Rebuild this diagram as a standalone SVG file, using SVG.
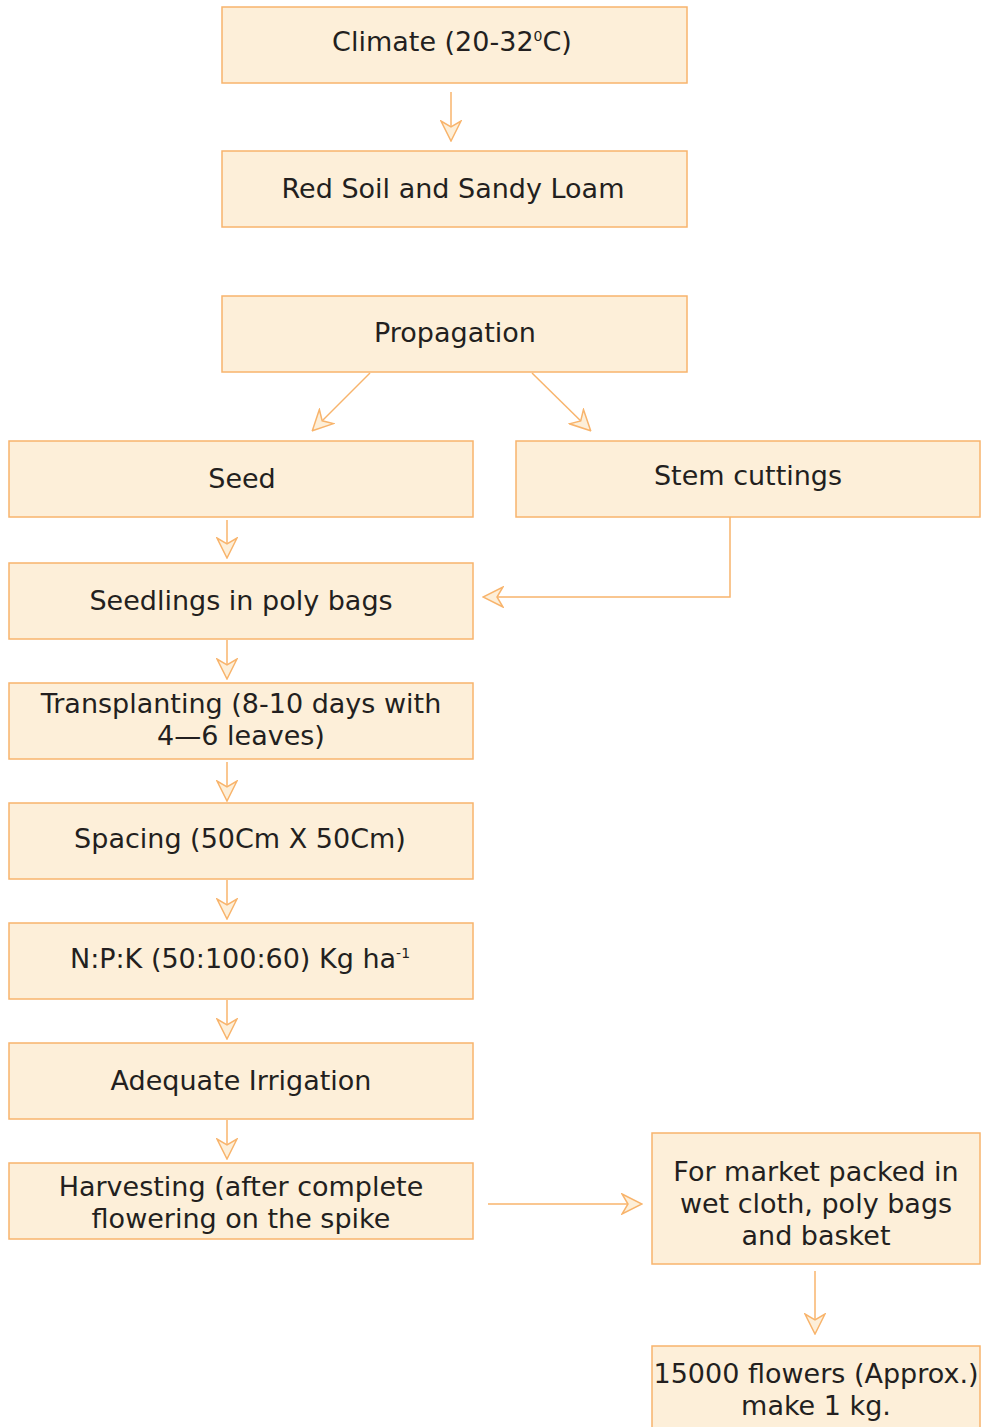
<svg xmlns="http://www.w3.org/2000/svg" width="988" height="1427" viewBox="0 0 988 1427">
<defs>
<style>
.box{fill:#fdefd9;stroke:#f8b46c;stroke-width:1.5}
.t{font-family:"DejaVu Sans",Verdana,sans-serif;font-size:27px;fill:#231f20;text-anchor:middle}
.c{fill:none;stroke:#f8b46c;stroke-width:1.5}
</style>
<marker id="ah" viewBox="0 0 22 22" refX="20" refY="11" markerWidth="22" markerHeight="22" markerUnits="userSpaceOnUse" orient="auto">
<path d="M1,1 L21,11 L1,21 L7,11 Z" fill="#fdefd9" stroke="#f8b46c" stroke-width="1.5" stroke-linejoin="miter"/>
</marker>
</defs>
<rect width="988" height="1427" fill="#fff"/>
<g id="connectors">
<line class="c" x1="451" y1="92" x2="451" y2="140" marker-end="url(#ah)"/>
<line class="c" x1="370" y1="373" x2="313" y2="430" marker-end="url(#ah)"/>
<line class="c" x1="532" y1="373" x2="590" y2="430" marker-end="url(#ah)"/>
<line class="c" x1="227" y1="520" x2="227" y2="557" marker-end="url(#ah)"/>
<polyline class="c" points="730,517 730,597 484,597" marker-end="url(#ah)"/>
<line class="c" x1="227" y1="640" x2="227" y2="678" marker-end="url(#ah)"/>
<line class="c" x1="227" y1="762" x2="227" y2="800" marker-end="url(#ah)"/>
<line class="c" x1="227" y1="880" x2="227" y2="918" marker-end="url(#ah)"/>
<line class="c" x1="227" y1="1000" x2="227" y2="1038" marker-end="url(#ah)"/>
<line class="c" x1="227" y1="1120" x2="227" y2="1158" marker-end="url(#ah)"/>
<line class="c" x1="488" y1="1204" x2="641" y2="1204" marker-end="url(#ah)"/>
<line class="c" x1="815" y1="1271" x2="815" y2="1333" marker-end="url(#ah)"/>
</g>
<g id="climate"><rect class="box" x="222" y="7" width="465" height="76"/><text class="t" x="452" y="51">Climate (20-32<tspan font-size="14" dy="-10">0</tspan><tspan dy="10">C)</tspan></text></g>
<g id="soil"><rect class="box" x="222" y="151" width="465" height="76"/><text class="t" x="453" y="198">Red Soil and Sandy Loam</text></g>
<g id="propagation"><rect class="box" x="222" y="296" width="465" height="76"/><text class="t" x="455" y="342">Propagation</text></g>
<g id="seed"><rect class="box" x="9" y="441" width="464" height="76"/><text class="t" x="242" y="488">Seed</text></g>
<g id="stem"><rect class="box" x="516" y="441" width="464" height="76"/><text class="t" x="748" y="485">Stem cuttings</text></g>
<g id="seedlings"><rect class="box" x="9" y="563" width="464" height="76"/><text class="t" x="241" y="610">Seedlings in poly bags</text></g>
<g id="transplanting"><rect class="box" x="9" y="683" width="464" height="76"/><text class="t" x="241" y="713">Transplanting (8-10 days with</text><text class="t" x="241" y="745">4—6 leaves)</text></g>
<g id="spacing"><rect class="box" x="9" y="803" width="464" height="76"/><text class="t" x="240" y="848">Spacing (50Cm X 50Cm)</text></g>
<g id="npk"><rect class="box" x="9" y="923" width="464" height="76"/><text class="t" x="240" y="968">N:P:K (50:100:60) Kg ha<tspan font-size="14" dy="-10">-1</tspan></text></g>
<g id="irrigation"><rect class="box" x="9" y="1043" width="464" height="76"/><text class="t" x="241" y="1090">Adequate Irrigation</text></g>
<g id="harvesting"><rect class="box" x="9" y="1163" width="464" height="76"/><text class="t" x="241" y="1196">Harvesting (after complete</text><text class="t" x="241" y="1228">flowering on the spike</text></g>
<g id="market"><rect class="box" x="652" y="1133" width="328" height="131"/><text class="t" x="816" y="1181">For market packed in</text><text class="t" x="816" y="1213">wet cloth, poly bags</text><text class="t" x="816" y="1245">and basket</text></g>
<g id="yield"><rect class="box" x="652" y="1346" width="328" height="90"/><text class="t" x="816" y="1383">15000 flowers (Approx.)</text><text class="t" x="816" y="1415">make 1 kg.</text></g>
</svg>
